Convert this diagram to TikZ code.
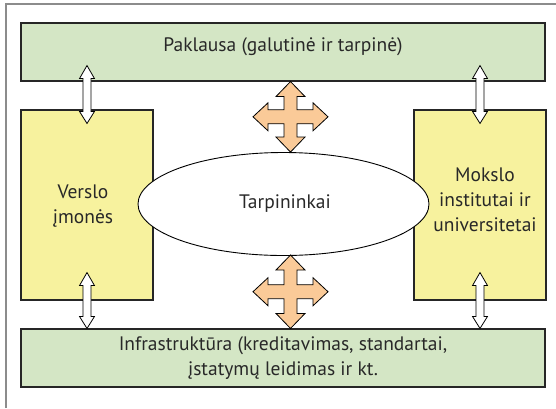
\documentclass[tikz,border=0pt]{standalone}
\usepackage{fontspec}
\setmainfont{PT Sans}
\usetikzlibrary{calc,shapes.geometric}

\definecolor{boxgreen}{RGB}{212,230,197}
\definecolor{boxyellow}{RGB}{247,242,158}
\definecolor{arroworange}{RGB}{250,202,152}
\definecolor{inkgray}{RGB}{40,40,40}
\definecolor{framegray}{RGB}{140,140,140}

\tikzset{
  greenbox/.style={draw=black!85, line width=1.1pt, fill=boxgreen, minimum width=524pt, minimum height=58pt, inner sep=0pt},
  yellowbox/.style={draw=black!85, line width=1.1pt, fill=boxyellow, minimum width=132pt, minimum height=190pt, inner sep=0pt},
  hub/.style={ellipse, draw=black, line width=0.9pt, fill=white, minimum width=291pt, minimum height=103pt, inner sep=0pt},
  lbl/.style={text=inkgray, font=\fontsize{19.5}{25}\selectfont, align=center, inner sep=0pt},
  whitearrow/.style={draw=black, line width=0.8pt, fill=white, line join=miter},
  crossarrow/.style={draw=black, line width=0.8pt, fill=arroworange, line join=miter}
}

% vertical hollow double arrow between two tips (#1 upper, #2 lower)
\newcommand\vdblarrow[2]{%
  \path[whitearrow] let \p1=(#1), \p2=(#2) in
    (\x1,\y1) -- (\x1+7.5pt,\y1-13pt) -- (\x1+4pt,\y1-13pt) -- (\x1+4pt,\y2+12pt)
    -- (\x1+7.5pt,\y2+12pt) -- (\x1,\y2) -- (\x1-7.5pt,\y2+12pt) -- (\x1-4pt,\y2+12pt)
    -- (\x1-4pt,\y1-13pt) -- (\x1-7.5pt,\y1-13pt) -- cycle;}

% four-way block arrow between an upper tip #1 and a lower tip #2
\newcommand\fourway[2]{%
  \path[crossarrow] let \p1=(#1), \p2=(#2), \p3=($(#1)!0.5!(#2)$) in
    (\x1,\y1) -- (\x1+14.5pt,\y1-15pt) -- (\x1+6.5pt,\y1-15pt) -- (\x1+6.5pt,\y3+7pt)
    -- (\x1+22.5pt,\y3+7pt) -- (\x1+22.5pt,\y3+14pt) -- (\x1+37.5pt,\y3)
    -- (\x1+22.5pt,\y3-14pt) -- (\x1+22.5pt,\y3-7pt) -- (\x1+6.5pt,\y3-7pt)
    -- (\x1+6.5pt,\y2+15pt) -- (\x1+14.5pt,\y2+15pt) -- (\x1,\y2)
    -- (\x1-14.5pt,\y2+15pt) -- (\x1-6.5pt,\y2+15pt) -- (\x1-6.5pt,\y3-7pt)
    -- (\x1-22.5pt,\y3-7pt) -- (\x1-22.5pt,\y3-14pt) -- (\x1-37.5pt,\y3)
    -- (\x1-22.5pt,\y3+14pt) -- (\x1-22.5pt,\y3+7pt) -- (\x1-6.5pt,\y3+7pt)
    -- (\x1-6.5pt,\y1-15pt) -- (\x1-14.5pt,\y1-15pt) -- cycle;}

\begin{document}
\begin{tikzpicture}[x=1pt,y=-1pt]
  \useasboundingbox[fill=white] (0,0) rectangle (556,408);

  % outer frame (only its top and left edges fall inside the page)
  \draw[framegray, line width=1.6pt] (6,408) -- (6,4) -- (556,4);

  % boxes
  \node[greenbox] (demand) at (283,52) {};
  \node[lbl] (demandtxt) at (283,47) {Paklausa (galutinė ir tarpinė)};

  \node[greenbox] (infra) at (283,358) {};
  \node[lbl] (infratxt) at (283,358) {Infrastruktūra (kreditavimas, standartai,\\įstatymų leidimas ir kt.};

  \node[yellowbox] (biz) at (87,205) {};
  \node[lbl] (biztxt) at (83,206) {Verslo\\įmonės};

  \node[yellowbox] (sci) at (480,205) {};
  \node[lbl] (scitxt) at (485,200) {Mokslo\\institutai ir\\universitetai};

  \node[hub] (hub) at (283.5,204) {};
  \node[lbl] (hubtxt) at (285,204) {Tarpininkai};

  % tips of the connecting arrows
  \coordinate (bizup)   at ([yshift=16pt]demand.south -| biz.north);
  \coordinate (bizin)   at ([yshift=-14pt]biz.north);
  \coordinate (sciup)   at ([yshift=16pt]demand.south -| sci.north);
  \coordinate (sciin)   at ([yshift=-14pt]sci.north);
  \coordinate (bizout)  at ([yshift=28pt]biz.south);
  \coordinate (bizdown) at (infra.north -| biz.south);
  \coordinate (sciout)  at ([yshift=28pt]sci.south);
  \coordinate (scidown) at (infra.north -| sci.south);
  \coordinate (crossAt) at (demand.south -| 290.5,0);
  \coordinate (crossAb) at (hub.north -| 290.5,0);
  \coordinate (crossBt) at ([yshift=-51pt]hub.center -| 290.5,0);
  \coordinate (crossBb) at (infra.north -| 290.5,0);

  % hollow double arrows between the boxes
  \vdblarrow{bizup}{bizin}
  \vdblarrow{sciup}{sciin}
  \vdblarrow{bizout}{bizdown}
  \vdblarrow{sciout}{scidown}

  % four-way arrows above and below the hub
  \fourway{crossAt}{crossAb}
  \fourway{crossBt}{crossBb}
\end{tikzpicture}
\end{document}
